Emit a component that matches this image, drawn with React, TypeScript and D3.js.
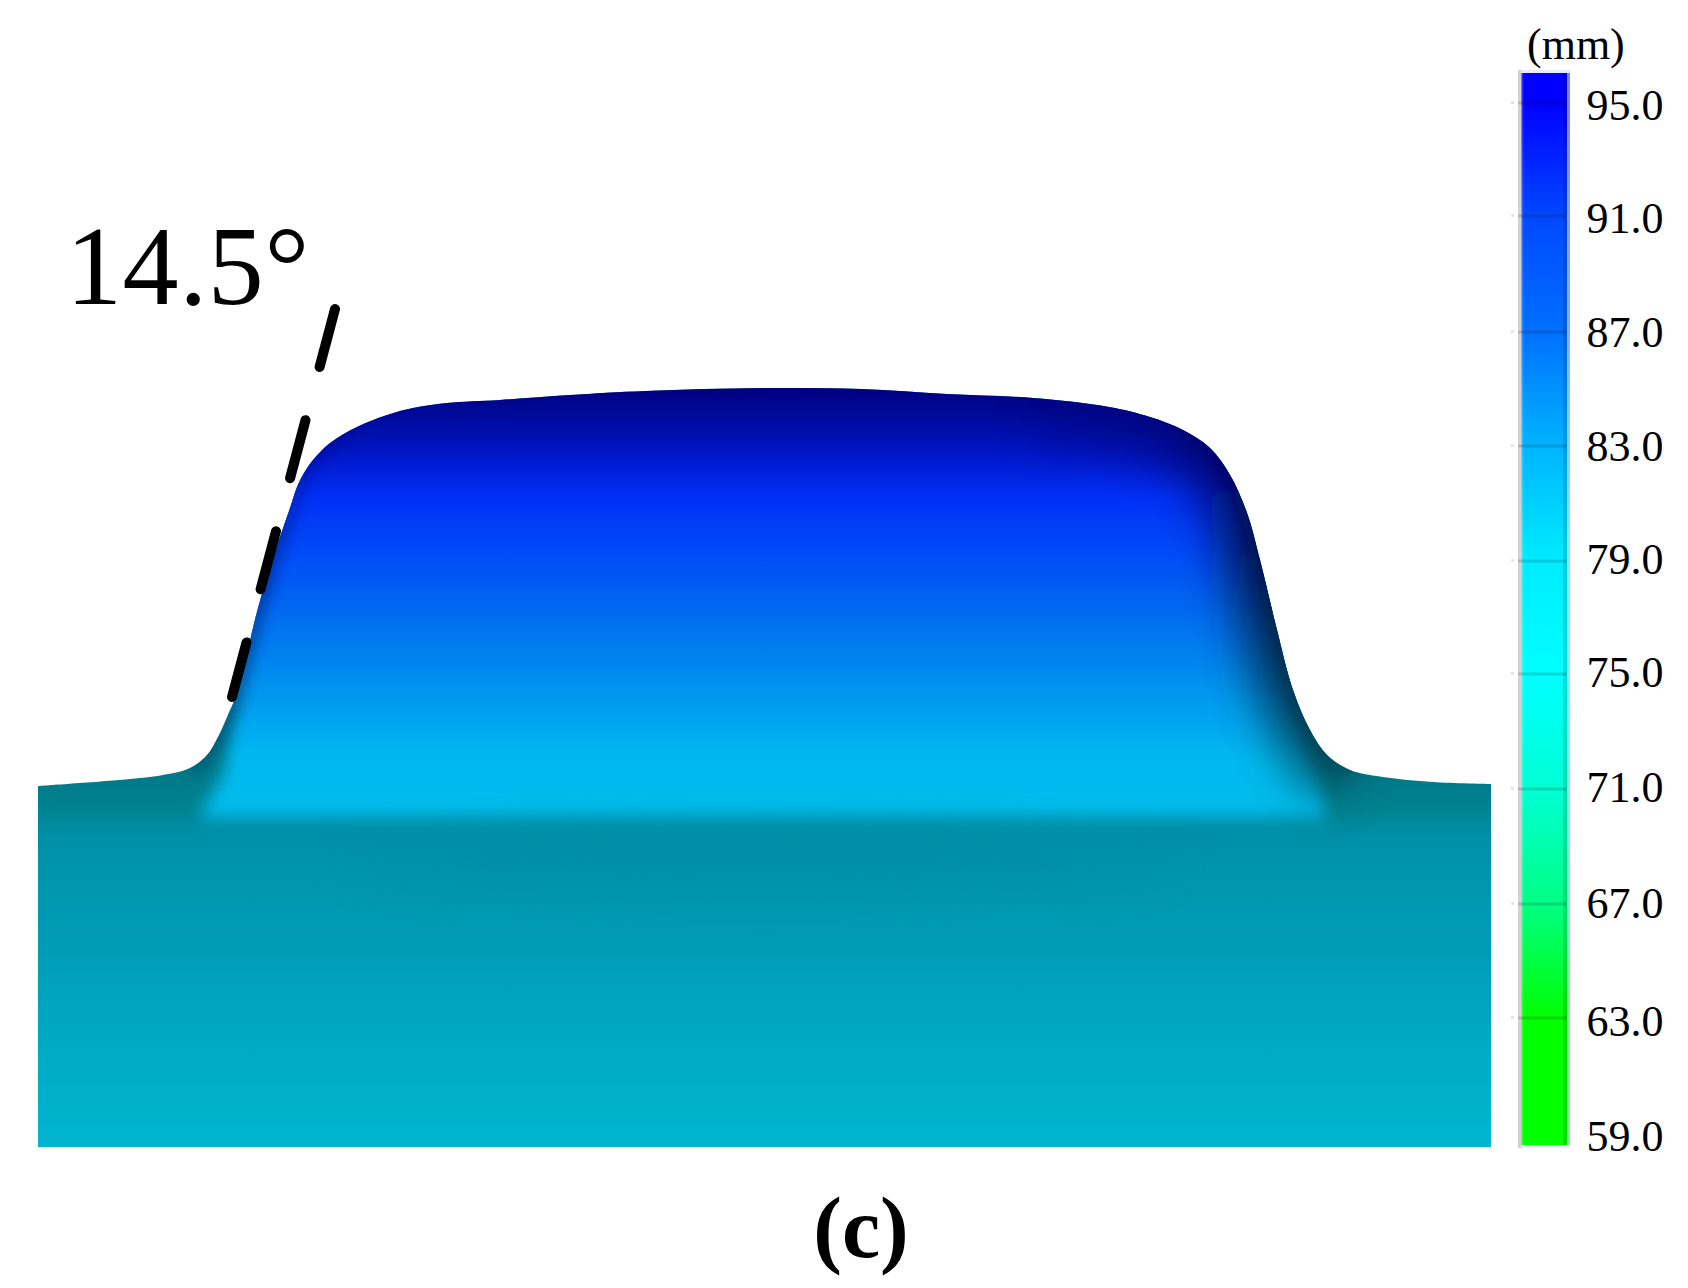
import React from "react";
import * as d3 from "d3";

// Surface profile: position along the section and height of the top edge (section units)
const profileX = [0,18.4,25,30.4,33.8,36,38,39.8,44,47.2,50.4,51.8,53.2,55,58.4,63.8,69.8,75,81.8,92.4,106.4,121.6,145.2,164.6,181.8,199,214.2,222.4,229,234.4,238.4,241.8,244.4,247.8,251,254.4,257.8,262.4,269,279,290.6];
const profileZ = [72.2,73.6,74.4,75.8,78.4,82,86.4,90.8,107.8,118.4,127.8,132,134.8,137.4,140.8,144,146.4,147.8,148.8,149.4,150.4,151.2,151.8,151.6,150.6,149.8,148,146,143.4,139.8,134.4,126.8,117.4,103.4,91.4,83.4,78.4,75.4,74,73,72.6];
// Extent of the raised zone inside the section
const zoneX = [36,36,39.5,37.4,32,258,255.5,252,255,255];
const zoneZ = [200,96,90,75.4,65.6,65.6,75,88,96,200];
// Draft line (annotation)
const draftX = [59.4, 38.8];
const draftZ = [167.6, 90];
// Colour along height inside the raised part
const bumpZ = [152,146,138,130,120,108,96,86,78,68,62];
const bumpC = ["#00007f","#000a9c","#0018cc","#0030f5","#0048f8","#0068f0","#0088ee","#00a4f0","#00b8f0","#00bcec","#00b8e4"];
// Colour along height in the flat plate
const plateZ = [74,68,62,52,40,20,0];
const plateC = ["#007a8a","#00828f","#0090a8","#0096b0","#009cb6","#00aac4","#00b5d0"];
// Colour bar
const barValues = [95,91,87,83,79,75,71,67,63,59];
const barColors = ["#0000ff","#0048ff","#0070ff","#00b4ff","#00ecff","#00ffff","#00ffd4","#00ff84","#00ff00","#00ff00"];
const tickPos = [103,216,332,446,561,674,789,904,1018,1132];
const labelPos = [120,233,347,461,574,687,802,918,1036,1151];

const W = 1688, H = 1288;
const x = d3.scaleLinear().domain([0, 290.6]).range([38, 1491]);
const z = d3.scaleLinear().domain([0, 200]).range([1147, 147]);
const barY = d3.scaleLinear().domain(barValues).range(tickPos);
const labelY = d3.scaleLinear().domain(barValues).range(labelPos);

const pts: [number, number][] = profileX.map((p, i) => [x(p), z(profileZ[i])]);
const curve = d3.line<[number, number]>().curve(d3.curveCatmullRom.alpha(0.5));
const outlineD = curve(pts)!;
const closedD = outlineD + `L${x(290.6)},${z(0)}L${x(0)},${z(0)}Z`;
const zoneD = d3.line<number>().x((d) => x(d)).y((_, i) => z(zoneZ[i]))(zoneX)! + "Z";
const rightD = curve(pts.filter((_, i) => profileX[i] >= 199 && profileX[i] <= 266))!;
const leftD = curve(pts.filter((_, i) => profileX[i] >= 30 && profileX[i] <= 64))!;

const FONT = "'Liberation Serif', 'Times New Roman', serif";

export default function App() {
  return (
    <svg width={W} height={H} viewBox={`0 0 ${W} ${H}`} style={{ position: "absolute", left: 0, top: 0, background: "#fff", fontKerning: "none" }}>
      <defs>
        <clipPath id="body"><path d={closedD} /></clipPath>
        <linearGradient id="bumpG" gradientUnits="userSpaceOnUse" x1="0" x2="0" y1={z(bumpZ[0])} y2={z(bumpZ[bumpZ.length - 1])}>
          {bumpZ.map((v, i) => (
            <stop key={v} offset={(bumpZ[0] - v) / (bumpZ[0] - bumpZ[bumpZ.length - 1])} stopColor={bumpC[i]} />
          ))}
        </linearGradient>
        <linearGradient id="plateG" gradientUnits="userSpaceOnUse" x1="0" x2="0" y1={z(plateZ[0])} y2={z(0)}>
          {plateZ.map((v, i) => (
            <stop key={v} offset={(plateZ[0] - v) / plateZ[0]} stopColor={plateC[i]} />
          ))}
        </linearGradient>
        <linearGradient id="barG" gradientUnits="userSpaceOnUse" x1="0" x2="0" y1={barY(95)} y2={barY(59)}>
          {barValues.map((v, i) => (
            <stop key={v} offset={(barY(v) - barY(95)) / (barY(59) - barY(95))} stopColor={barColors[i]} />
          ))}
        </linearGradient>
        <linearGradient id="edgeR" gradientUnits="userSpaceOnUse" x1="0" x2="0" y1={z(150)} y2={z(74)}>
          <stop offset="0" stopColor="#00006a" stopOpacity="0" />
          <stop offset="0.12" stopColor="#00005c" stopOpacity="0.8" />
          <stop offset="0.4" stopColor="#001048" stopOpacity="1" />
          <stop offset="0.75" stopColor="#00304e" stopOpacity="1" />
          <stop offset="1" stopColor="#00505e" stopOpacity="1" />
        </linearGradient>
        <linearGradient id="edgeL" gradientUnits="userSpaceOnUse" x1="0" x2="0" y1={z(150)} y2={z(74)}>
          <stop offset="0" stopColor="#000070" stopOpacity="0.4" />
          <stop offset="0.5" stopColor="#001a70" stopOpacity="1" />
          <stop offset="1" stopColor="#004a68" stopOpacity="1" />
        </linearGradient>
        <filter id="b6" filterUnits="userSpaceOnUse" x="0" y="0" width={W} height={H}><feGaussianBlur stdDeviation="8 9" /></filter>
        <filter id="b7" filterUnits="userSpaceOnUse" x="0" y="0" width={W} height={H}><feGaussianBlur stdDeviation="7" /></filter>
        <filter id="b18" filterUnits="userSpaceOnUse" x="0" y="0" width={W} height={H}><feGaussianBlur stdDeviation="22" /></filter>
        <mask id="zoneM" maskUnits="userSpaceOnUse" x="0" y="0" width={W} height={H}>
          <path d={zoneD} fill="#fff" filter="url(#b6)" />
        </mask>
      </defs>

      <g clipPath="url(#body)">
        <rect x={x(0)} y={z(160)} width={x(290.6) - x(0)} height={z(0) - z(160)} fill="url(#plateG)" />
        <rect x={x(0)} y={z(160)} width={x(290.6) - x(0)} height={z(60) - z(160)} fill="url(#bumpG)" mask="url(#zoneM)" />
        <ellipse cx={x(145)} cy={z(57)} rx={420} ry={30} fill="#0088a4" opacity={0.4} filter="url(#b18)" />
        <path d={rightD} fill="none" stroke="url(#edgeR)" strokeWidth={72} opacity={0.85} filter="url(#b18)" />
        <path d={rightD} fill="none" stroke="url(#edgeR)" strokeWidth={14} opacity={0.85} filter="url(#b7)" />
        <path d={leftD} fill="none" stroke="url(#edgeL)" strokeWidth={12} opacity={0.65} filter="url(#b7)" />
      </g>

      {/* draft line */}
      <line
        x1={x(draftX[0])} y1={z(draftZ[0])} x2={x(draftX[1])} y2={z(draftZ[1])}
        stroke="#000" strokeWidth={10} strokeLinecap="round" strokeDasharray="60 55"
      />
      <text x={66} y={304} fontFamily={FONT} fontSize={112} letterSpacing={0.6} fill="#000">14.5°</text>

      {/* colour bar */}
      <rect x={1518} y={70} width={3.5} height={1078} fill="#d2d0d0" />
      <rect x={1521.5} y={70} width={48.5} height={1078} fill="#d8d8ff" opacity={0.6} />
      <rect x={1521.5} y={73} width={45.5} height={1072} fill="url(#barG)" />
      <rect x={1567} y={73} width={3} height={1072} fill="url(#barG)" opacity={0.45} />
      <rect x={1563} y={73} width={4} height={1072} fill="#000" opacity={0.13} />
      <rect x={1521.5} y={73} width={2} height={1072} fill="#fff" opacity={0.15} />
      {barValues.slice(0, -1).map((v) => (
        <g key={v}>
          <rect x={1518} y={barY(v) - 1.5} width={49} height={3} fill="#000" opacity={0.15} />
          <rect x={1511} y={barY(v) - 2} width={3} height={3} fill="#e4e4e4" />
        </g>
      ))}
      {barValues.map((v) => (
        <text key={v} x={1586.5} y={labelY(v)} fontFamily={FONT} fontSize={44} fill="#000">{v.toFixed(1)}</text>
      ))}
      <text x={1527} y={59} fontFamily={FONT} fontSize={44} fill="#000">(mm)</text>

      <text x={861} y={1257} textAnchor="middle" fontFamily={FONT} fontWeight="bold" fontSize={86} fill="#000">(c)</text>
    </svg>
  );
}
